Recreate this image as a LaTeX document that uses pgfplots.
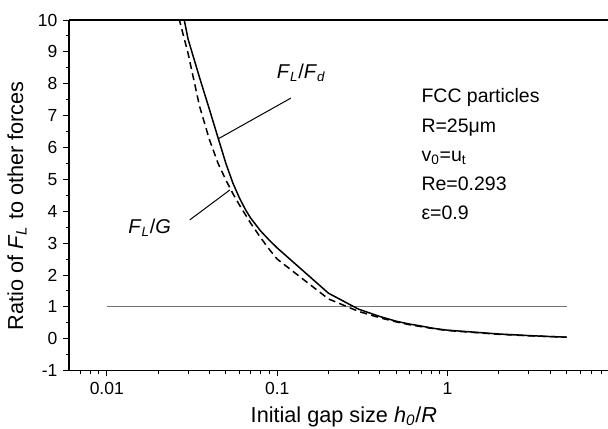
\documentclass[border=0pt]{standalone}
\usepackage{fontspec}
\setmainfont{Liberation Sans}
\usepackage{pgfplots}
\pgfplotsset{compat=1.18}

\begin{document}
\begin{tikzpicture}
  \begin{axis}[
      scale only axis,
      width=323.4pt, height=210.4pt,
      xmode=log,
      xmin=0.006, xmax=8.74,
      ymin=-1, ymax=10,
      axis x line=box, axis y line=left,
      axis line style={-, line width=0.8pt},
      xtick pos=bottom,
      tick align=outside,
      major tick length=3.4pt, minor tick length=2pt,
      every tick/.style={black, line width=0.6pt},
      xtick={0.01,0.1,1},
      xticklabels={0.01,0.1,1},
      minor xtick={0.007,0.008,0.009,0.02,0.03,0.04,0.05,0.06,0.07,0.08,0.09,
                   0.2,0.3,0.4,0.5,0.6,0.7,0.8,0.9,2,3,4,5,6,7,8},
      ytick={-1,0,1,2,3,4,5,6,7,8,9,10},
      yticklabels={-1,0,1,2,3,4,5,6,7,8,9,10},
      minor y tick num=1,
      tick label style={font=\fontsize{10.5}{12}\selectfont},
      xlabel={Initial gap size \textit{h}\textsubscript{\textit{0}}/\textit{R}},
      ylabel={Ratio of \textit{F}\textsubscript{\textit{L}} to other forces},
      xlabel style={font=\fontsize{13}{15}\selectfont,
                    at={(axis description cs:0.51,-0.131)}, anchor=center},
      ylabel style={font=\fontsize{13}{15}\selectfont,
                    at={(axis description cs:-0.0965,0.47)}, anchor=center},
      clip=true,
    ]
    % reference line at ratio 1
    \addplot[black!55, line width=0.7pt] coordinates {(0.01,1) (5,1)};
    % F_L / F_d
    \addplot[black, line width=0.9pt] coordinates {
      (0.0275,10.4) (0.03,9.4) (0.035,8.2) (0.04,7.2) (0.045,6.3) (0.05,5.5)
      (0.055,4.88) (0.06,4.42) (0.065,4.06) (0.07,3.78) (0.08,3.38)
      (0.09,3.09) (0.1,2.85)
      (0.2,1.43) (0.3,0.93) (0.4,0.70) (0.5,0.55) (0.6,0.46) (0.7,0.40)
      (0.8,0.34) (0.9,0.30) (1,0.27) (2,0.15) (3,0.10) (4,0.07) (5,0.05)
    };
    % F_L / G
    \addplot[black, line width=0.9pt, dash pattern=on 4.2pt off 2.6pt] coordinates {
      (0.0255,10.4) (0.03,8.95) (0.035,7.3) (0.04,6.25) (0.045,5.5) (0.05,4.98)
      (0.055,4.55) (0.06,4.2) (0.07,3.62) (0.08,3.17) (0.09,2.8) (0.1,2.5)
      (0.2,1.25) (0.3,0.86) (0.4,0.66) (0.5,0.53) (0.6,0.44) (0.7,0.38)
      (0.8,0.33) (0.9,0.29) (1,0.26) (2,0.14) (3,0.095) (4,0.07) (5,0.05)
    };
    % curve labels and pointers
    \draw[black, line width=0.6pt] (axis cs:0.1203,7.55) -- (axis cs:0.0450,6.27);
    \draw[black, line width=0.6pt] (axis cs:0.0307,3.73) -- (axis cs:0.0528,4.67);
    \node[anchor=base west, font=\fontsize{12}{14}\selectfont, inner sep=0pt]
      at (axis cs:0.0992,8.15) {\textit{F}\textsubscript{\textit{L}}/\textit{F}\textsubscript{\textit{d}}};
    \node[anchor=base west, font=\fontsize{12}{14}\selectfont, inner sep=0pt]
      at (axis cs:0.01333,3.31) {\textit{F}\textsubscript{\textit{L}}/\textit{G}};
    % parameters
    \begin{scope}[every node/.style={anchor=base west, inner sep=0pt,
                  font=\fontsize{11.7}{14}\selectfont}]
      \node at (axis cs:0.70,7.40) {FCC particles};
      \node at (axis cs:0.70,6.46) {R=25μm};
      \node at (axis cs:0.70,5.55) {v\textsubscript{0}=u\textsubscript{t}};
      \node at (axis cs:0.70,4.64) {Re=0.293};
      \node at (axis cs:0.70,3.73) {ε=0.9};
    \end{scope}
  \end{axis}
  \pgfresetboundingbox
  \path[use as bounding box] (current axis.south west) ++(-41.4pt,-35pt) rectangle ++(364.8pt,257.4pt);
\end{tikzpicture}
\end{document}
